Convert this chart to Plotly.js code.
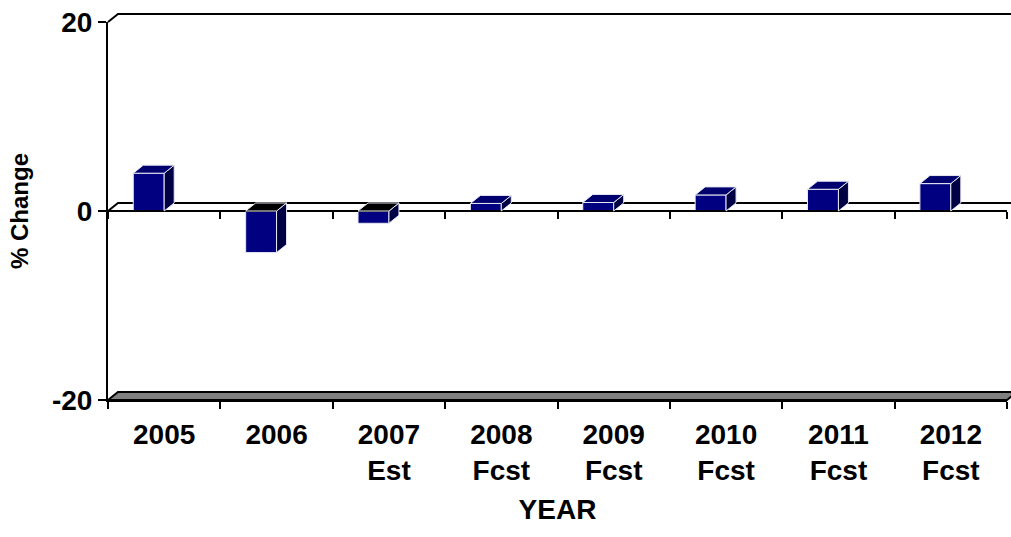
<!DOCTYPE html>
<html>
<head>
<meta charset="utf-8">
<script src="https://cdn.plot.ly/plotly-3.0.1.min.js"></script>
<style>
  html, body { margin: 0; padding: 0; background: #ffffff; }
  #chart { width: 1011px; height: 537px; }
</style>
</head>
<body>
<div id="chart"></div>
<script>
// Year-over-year percentage change, actuals and forecasts
const years = ['2005', '2006', '2007<br>Est', '2008<br>Fcst', '2009<br>Fcst', '2010<br>Fcst', '2011<br>Fcst', '2012<br>Fcst'];
const pctChange = [4.0, -4.4, -1.3, 0.8, 0.9, 1.7, 2.3, 2.9];
const yTicks = [-20, 0, 20];

// Pseudo-3D column look: front face width and depth offset
const FACE_W = 0.275;        // front face width in category units
const DEPTH_X = 0.089;       // depth shift along x (category units)
const DEPTH_Y = 0.85;        // depth shift along y (value units)
const WALL_DX = 10 / 899;    // same depth expressed in axis-domain fractions
const WALL_DY = 8 / 378;

const FRONT = '#000080';
const SIDE = '#000045';
const TOP_POS = '#00006e';
const TOP_NEG = '#000000';
const EDGE = '#e8e8f4';

const font = { family: 'Liberation Sans, Arial, sans-serif', color: '#000000', weight: 700 };

const shapes = [];

// back wall: top edge and zero line receding into depth, and the grey floor
shapes.push({
  type: 'path', xref: 'x domain', yref: 'y domain', layer: 'below',
  path: `M0,1 L${WALL_DX},${1 + WALL_DY} L1.2,${1 + WALL_DY}`,
  line: { color: '#000000', width: 2 }
});
shapes.push({
  type: 'path', xref: 'x domain', yref: 'y domain', layer: 'below',
  path: `M0,0.5 L${WALL_DX},${0.5 + WALL_DY} L1.2,${0.5 + WALL_DY}`,
  line: { color: '#000000', width: 2 }
});
shapes.push({
  type: 'path', xref: 'x domain', yref: 'y domain', layer: 'above',
  path: `M0,0 L${WALL_DX},${WALL_DY} L${1 + WALL_DX},${WALL_DY} L1,0 Z`,
  fillcolor: '#808080', line: { color: '#000000', width: 2 }
});

// side and top faces for every column
pctChange.forEach((v, i) => {
  const x0 = i - FACE_W, x1 = i;
  shapes.push({
    type: 'path', xref: 'x', yref: 'y', layer: 'above',
    path: `M${x1},0 L${x1 + DEPTH_X},${DEPTH_Y} L${x1 + DEPTH_X},${v + DEPTH_Y} L${x1},${v} Z`,
    fillcolor: SIDE, line: { color: EDGE, width: 1 }
  });
  const topY = Math.max(v, 0);
  shapes.push({
    type: 'path', xref: 'x', yref: 'y', layer: 'above',
    path: `M${x0},${topY} L${x0 + DEPTH_X},${topY + DEPTH_Y} L${x1 + DEPTH_X},${topY + DEPTH_Y} L${x1},${topY} Z`,
    fillcolor: v >= 0 ? TOP_POS : TOP_NEG, line: { color: EDGE, width: 1 }
  });
});

const data = [
  {
    type: 'bar', x: years, y: pctChange,
    width: FACE_W, offset: -FACE_W,
    marker: { color: FRONT, line: { color: EDGE, width: 1 } },
    hoverinfo: 'x+y'
  },
  {
    // carries the categories for the zero-level axis
    type: 'scatter', mode: 'markers', x: years, y: pctChange,
    xaxis: 'x2', marker: { opacity: 0 }, hoverinfo: 'skip', showlegend: false
  }
];

const layout = {
  width: 1011, height: 537,
  margin: { l: 108, r: 4, t: 22, b: 137 },
  paper_bgcolor: '#ffffff', plot_bgcolor: 'rgba(0,0,0,0)',
  showlegend: false,
  font: font,
  xaxis: {
    type: 'category', categoryarray: years, categoryorder: 'array',
    range: [-0.5, years.length - 0.5],
    tickson: 'boundaries', ticks: 'outside', ticklen: 7, tickwidth: 2, tickcolor: '#000000',
    showline: true, linewidth: 2, linecolor: '#000000',
    showgrid: false, zeroline: false,
    tickfont: Object.assign({}, font, { size: 28 }),
    ticklabelstandoff: 8,
    title: { text: 'YEAR', font: Object.assign({}, font, { size: 28 }), standoff: 14 }
  },
  xaxis2: {
    type: 'category', categoryarray: years, categoryorder: 'array',
    range: [-0.5, years.length - 0.5],
    overlaying: 'x', anchor: 'free', position: 0.5, side: 'bottom',
    tickson: 'boundaries', ticks: 'outside', ticklen: 7, tickwidth: 2, tickcolor: '#000000',
    showline: true, linewidth: 2, linecolor: '#000000',
    showgrid: false, zeroline: false, showticklabels: false
  },
  yaxis: {
    range: [-20, 20], tickmode: 'array', tickvals: yTicks, ticktext: yTicks.map(String),
    ticks: 'outside', ticklen: 8, tickwidth: 2, tickcolor: '#000000',
    showline: true, linewidth: 2, linecolor: '#000000',
    showgrid: false, zeroline: false,
    tickfont: Object.assign({}, font, { size: 28 }),
    title: { text: '% Change', font: Object.assign({}, font, { size: 24 }), standoff: 17 }
  },
  shapes: shapes
};

Plotly.newPlot('chart', data, layout, { displayModeBar: false, staticPlot: true });
</script>
</body>
</html>
